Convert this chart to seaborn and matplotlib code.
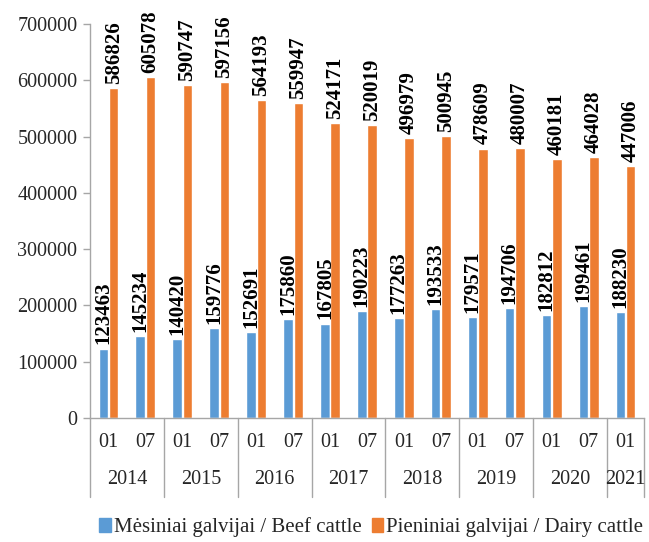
import matplotlib
matplotlib.use("Agg")
import matplotlib.pyplot as plt
import matplotlib.transforms as mtransforms
import seaborn as sns
import pandas as pd

# Cattle numbers by half-year
years = ["2014", "2015", "2016", "2017", "2018", "2019", "2020", "2021"]
months = ["01", "07", "01", "07", "01", "07", "01", "07", "01", "07",
          "01", "07", "01", "07", "01"]
period_years = ["2014", "2014", "2015", "2015", "2016", "2016", "2017", "2017",
                "2018", "2018", "2019", "2019", "2020", "2020", "2021"]
beef = [123463, 145234, 140420, 159776, 152691, 175860, 167805, 190223,
        177263, 193533, 179571, 194706, 182812, 199461, 188230]
dairy = [586826, 605078, 590747, 597156, 564193, 559947, 524171, 520019,
         496979, 500945, 478609, 480007, 460181, 464028, 447006]
series_names = ["Mėsiniai galvijai / Beef cattle", "Pieniniai galvijai / Dairy cattle"]
colors = ["#5B9BD5", "#ED7D31"]

periods = [f"{y}-{m}" for y, m in zip(period_years, months)]
df = pd.DataFrame({
    "period": periods * 2,
    "value": beef + dairy,
    "type": [series_names[0]] * len(beef) + [series_names[1]] * len(dairy),
})

sns.set_theme(style="white")
plt.rcParams["font.family"] = ["Liberation Serif", "DejaVu Serif"]

fig = plt.figure(figsize=(6.49, 5.42), dpi=100)
ax = fig.add_axes([90 / 649, 1 - 418 / 542, (644 - 90) / 649, (418 - 24) / 542])

sns.barplot(data=df, x="period", y="value", hue="type", palette=colors,
            order=periods, hue_order=series_names, width=0.56, gap=0.08,
            saturation=1, ax=ax, legend=False)

for cont in ax.containers:
    ax.bar_label(cont, fmt="%d", rotation=90, padding=3, fontsize=15,
                 fontweight="bold", color="black")

ax.set_ylim(0, 700000)
ax.set_xlim(-0.5, len(periods) - 0.5)
ax.set_yticks(range(0, 700001, 100000))
ax.set_yticklabels([str(v) for v in range(0, 700001, 100000)], fontsize=14.5)
ax.tick_params(axis="y", length=5, width=1, color="#A6A6A6", pad=4, left=True)
ax.set_xticks([])
ax.set_xlabel("")
ax.set_ylabel("")

for side in ["top", "right"]:
    ax.spines[side].set_visible(False)
for side in ["left", "bottom"]:
    ax.spines[side].set_color("#A6A6A6")
    ax.spines[side].set_linewidth(1)

trans = mtransforms.blended_transform_factory(ax.transData, ax.transAxes)

# Two-level category axis: month row and year row with separators
for i, m in enumerate(months):
    ax.text(i, -0.061, m, transform=trans, ha="center", va="center", fontsize=14.5)

year_pos = {}
for i, y in enumerate(period_years):
    year_pos.setdefault(y, []).append(i)
for y in years:
    idx = year_pos[y]
    ax.text((idx[0] + idx[-1]) / 2, -0.157, y, transform=trans, ha="center",
            va="center", fontsize=14.5)

boundaries = [-0.5] + [year_pos[y][-1] + 0.5 for y in years]
for b in boundaries:
    ax.plot([b, b], [0, -0.2], transform=trans, color="#A6A6A6", lw=1,
            clip_on=False)

handles = [plt.Rectangle((0, 0), 1, 1, color=c) for c in colors]
fig.legend(handles, series_names, loc="center", bbox_to_anchor=(0.572, 0.027),
           ncol=2, frameon=False, fontsize=15, handlelength=0.55,
           handleheight=0.6, handletextpad=0.15, columnspacing=0.5)

fig.savefig("out.png", dpi=100)
